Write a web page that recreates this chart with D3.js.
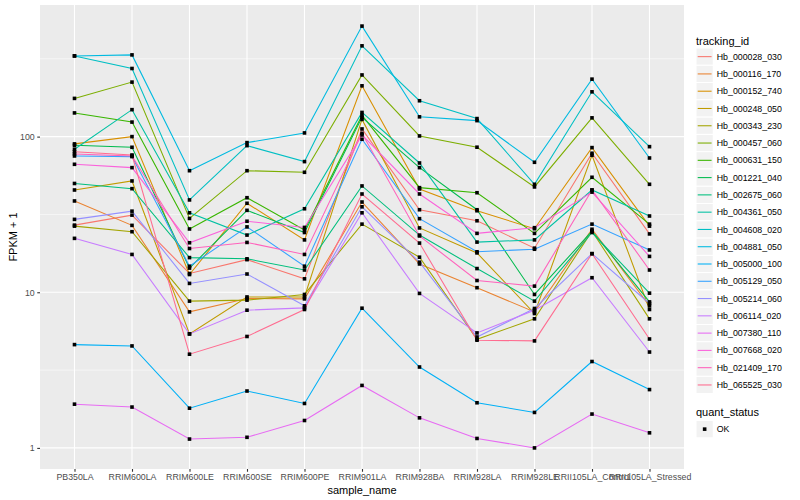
<!DOCTYPE html>
<html>
<head>
<meta charset="utf-8">
<script src="https://cdn.jsdelivr.net/npm/d3@7"></script>
<style>
  body { margin: 0; background: #fff; }
  svg text { font-family: "Liberation Sans", Arial, sans-serif; }
</style>
</head>
<body>
<div id="chart"></div>
<script>
// sample names on the x axis
const sampleNames = ["PB350LA", "RRIM600LA", "RRIM600LE", "RRIM600SE", "RRIM600PE", "RRIM901LA",
    "RRIM928BA", "RRIM928LA", "RRIM928LE", "RRII105LA_Control", "RRII105LA_Stressed"];

// FPKM + 1 per gene, one value per sample
const hb_000028_030 = [27.0, 31.3, 13.2, 16.2, 12.2, 112, 33.9, 28.8, 19.2, 78.2, 23.7];
const hb_000116_170 = [38.6, 26.9, 7.48, 9.12, 9.07, 38.0, 15.2, 10.7, 7.48, 25.4, 8.18];
const hb_000152_740 = [89.8, 100, 13.0, 37.3, 21.7, 212, 46.1, 33.4, 25.6, 85, 26.6];
const hb_000248_050 = [45.4, 51.9, 5.40, 9.33, 9.33, 129, 25.9, 17.9, 7.3, 75.9, 7.75];
const hb_000343_230 = [26.6, 24.5, 8.77, 8.9, 9.68, 27.4, 16.8, 4.99, 6.75, 24.7, 6.75];
const hb_000457_060 = [176, 224, 29.8, 60.4, 59.0, 249, 101, 85.5, 47.5, 132, 49.4];
const hb_000631_150 = [142, 124, 25.5, 40.5, 25.1, 137, 47.0, 43.6, 23.9, 54.8, 27.4];
const hb_001221_040 = [88, 85.4, 14.3, 33.6, 24.2, 133, 63.2, 33.9, 9.68, 24.7, 8.67];
const hb_002675_060 = [50, 46.3, 16.7, 16.4, 13.9, 48.2, 23.3, 14.2, 8.77, 24.2, 9.87];
const hb_004361_050 = [83, 149, 32.4, 23.3, 34.4, 143, 67.7, 21.0, 21.7, 45.4, 30.9];
const hb_004608_020 = [330, 274, 39.2, 87.5, 69.1, 383, 170, 130.6, 49.4, 194, 86.2];
const hb_004881_050 = [330, 335, 60.4, 91.5, 105.6, 513, 134, 126.7, 68.4, 234, 72.9];
const hb_005000_100 = [4.61, 4.52, 1.80, 2.32, 1.93, 7.9, 3.31, 1.95, 1.69, 3.59, 2.37];
const hb_005129_050 = [75.1, 74.4, 14.7, 26.3, 14.7, 96.2, 29.7, 18.2, 18.9, 27.4, 18.7];
const hb_005214_060 = [29.4, 33.2, 11.4, 13.1, 8.18, 35.4, 15.6, 5.16, 7.87, 17.7, 8.47];
const hb_006114_020 = [22.2, 17.5, 5.40, 7.67, 7.94, 32.4, 9.83, 5.48, 7.67, 12.4, 4.13];
const hb_007380_110 = [1.91, 1.83, 1.14, 1.17, 1.50, 2.52, 1.56, 1.15, 1.0, 1.65, 1.25];
const hb_007668_020 = [66.4, 63.2, 20.8, 28.6, 26.1, 102.5, 42.8, 23.9, 26.0, 44, 17.0];
const hb_021409_170 = [77.4, 75.1, 19.1, 20.9, 17.5, 105, 23.0, 11.9, 10.95, 45.4, 13.9];
const hb_065525_030 = [80, 76.2, 4.0, 5.2, 7.75, 42.8, 20.7, 4.92, 4.87, 17.7, 5.01];

const trackingIds = ["Hb_000028_030", "Hb_000116_170", "Hb_000152_740", "Hb_000248_050", "Hb_000343_230",
    "Hb_000457_060", "Hb_000631_150", "Hb_001221_040", "Hb_002675_060", "Hb_004361_050",
    "Hb_004608_020", "Hb_004881_050", "Hb_005000_100", "Hb_005129_050", "Hb_005214_060",
    "Hb_006114_020", "Hb_007380_110", "Hb_007668_020", "Hb_021409_170", "Hb_065525_030"];
const seriesValues = [hb_000028_030, hb_000116_170, hb_000152_740, hb_000248_050, hb_000343_230,
    hb_000457_060, hb_000631_150, hb_001221_040, hb_002675_060, hb_004361_050,
    hb_004608_020, hb_004881_050, hb_005000_100, hb_005129_050, hb_005214_060,
    hb_006114_020, hb_007380_110, hb_007668_020, hb_021409_170, hb_065525_030];
const quantStatus = ["OK"];
const yTicks = [1, 10, 100];

// ggplot2 hue palette for 20 levels
const palette = ["#F8766D", "#EA8331", "#D89000", "#C09B00", "#A3A500", "#7CAE00", "#39B600", "#00BB4E",
    "#00BF7D", "#00C1A3", "#00BFC4", "#00BAE0", "#00B0F6", "#35A2FF", "#9590FF", "#C77CFF",
    "#E76BF3", "#FA62DB", "#FF62BC", "#FF6C90"];

const width = 800, height = 500;
const panel = { left: 40, right: 684, top: 5, bottom: 469 };

const series = trackingIds.map(function (id, i) {
    return { id: id, values: seriesValues[i].map(function (v, j) { return { sample: sampleNames[j], value: v }; }) };
});

const svg = d3.select("#chart").append("svg")
    .attr("width", width)
    .attr("height", height);

// scales
const x = d3.scalePoint()
    .domain(sampleNames)
    .range([panel.left, panel.right])
    .padding(0.6);

const allValues = seriesValues.flat();
const logExt = d3.extent(allValues).map(Math.log10);
const pad = (logExt[1] - logExt[0]) * 0.05;
const y = d3.scaleLog()
    .domain([Math.pow(10, logExt[0] - pad), Math.pow(10, logExt[1] + pad)])
    .range([panel.bottom, panel.top]);

// panel background
svg.append("rect")
    .attr("x", panel.left).attr("y", panel.top)
    .attr("width", panel.right - panel.left)
    .attr("height", panel.bottom - panel.top)
    .attr("fill", "#EBEBEB");

// minor grid (half decades)
const minorTicks = [Math.sqrt(10), Math.sqrt(1000), Math.sqrt(100000)];
svg.append("g").selectAll("line").data(minorTicks).enter().append("line")
    .attr("x1", panel.left).attr("x2", panel.right)
    .attr("y1", function (d) { return y(d); })
    .attr("y2", function (d) { return y(d); })
    .attr("stroke", "#fff").attr("stroke-width", 0.55);

// major grid
svg.append("g").selectAll("line").data(yTicks).enter().append("line")
    .attr("x1", panel.left).attr("x2", panel.right)
    .attr("y1", function (d) { return y(d); })
    .attr("y2", function (d) { return y(d); })
    .attr("stroke", "#fff").attr("stroke-width", 1.1);
svg.append("g").selectAll("line").data(sampleNames).enter().append("line")
    .attr("x1", function (d) { return x(d); })
    .attr("x2", function (d) { return x(d); })
    .attr("y1", panel.top).attr("y2", panel.bottom)
    .attr("stroke", "#fff").attr("stroke-width", 1.1);

// axes
const xAxis = svg.append("g")
    .attr("transform", "translate(0," + panel.bottom + ")")
    .call(d3.axisBottom(x).tickSize(2.75).tickPadding(2.5));
const yAxis = svg.append("g")
    .attr("transform", "translate(" + panel.left + ",0)")
    .call(d3.axisLeft(y).tickValues(yTicks).tickFormat(d3.format("d")).tickSize(2.75).tickPadding(2.5));
[xAxis, yAxis].forEach(function (a) {
    a.select(".domain").remove();
    a.selectAll(".tick line").attr("stroke", "#333333").attr("stroke-width", 1.1);
    a.selectAll(".tick text").attr("fill", "#4D4D4D").style("font-size", "8.8px");
});

// lines
const line = d3.line()
    .x(function (d) { return x(d.sample); })
    .y(function (d) { return y(d.value); });

svg.append("g").selectAll("path").data(series).enter().append("path")
    .attr("d", function (d) { return line(d.values); })
    .attr("fill", "none")
    .attr("stroke", function (d, i) { return palette[i]; })
    .attr("stroke-width", 1.07);

// points
const pts = series.flatMap(function (s) { return s.values; });
svg.append("g").selectAll("rect").data(pts).enter().append("rect")
    .attr("x", function (d) { return x(d.sample) - 1.8; })
    .attr("y", function (d) { return y(d.value) - 1.8; })
    .attr("width", 3.6).attr("height", 3.6)
    .attr("fill", "#000");

// axis titles
svg.append("text")
    .attr("x", (panel.left + panel.right) / 2).attr("y", 494)
    .attr("text-anchor", "middle")
    .style("font-size", "11px")
    .text("sample_name");
svg.append("text")
    .attr("transform", "translate(17," + ((panel.top + panel.bottom) / 2) + ") rotate(-90)")
    .attr("text-anchor", "middle")
    .style("font-size", "11px")
    .text("FPKM + 1");

// legend: tracking_id
const keySize = 17.28;
const legendX = 696;
const legend = svg.append("g");
legend.append("text")
    .attr("x", legendX).attr("y", 44.5)
    .style("font-size", "11px")
    .text("tracking_id");

const rows = legend.selectAll(".row").data(trackingIds).enter().append("g")
    .attr("class", "row")
    .attr("transform", function (d, i) { return "translate(" + legendX + "," + (48 + i * keySize) + ")"; });
rows.append("rect")
    .attr("width", keySize).attr("height", keySize)
    .attr("fill", "#F2F2F2").attr("stroke", "#fff").attr("stroke-width", 1);
rows.append("line")
    .attr("x1", 1.7).attr("x2", keySize - 1.7)
    .attr("y1", keySize / 2).attr("y2", keySize / 2)
    .attr("stroke", function (d, i) { return palette[i]; })
    .attr("stroke-width", 1.07);
rows.append("text")
    .attr("x", keySize + 3.5).attr("y", keySize / 2)
    .attr("dy", "0.35em")
    .style("font-size", "8.8px")
    .text(function (d) { return d; });

// legend: quant_status
const qs = svg.append("g");
qs.append("text")
    .attr("x", legendX).attr("y", 416)
    .style("font-size", "11px")
    .text("quant_status");
const qRows = qs.selectAll(".qrow").data(quantStatus).enter().append("g")
    .attr("class", "qrow")
    .attr("transform", function (d, i) { return "translate(" + legendX + "," + (420.5 + i * keySize) + ")"; });
qRows.append("rect")
    .attr("width", keySize).attr("height", keySize)
    .attr("fill", "#F2F2F2").attr("stroke", "#fff").attr("stroke-width", 1);
qRows.append("rect")
    .attr("x", keySize / 2 - 1.8).attr("y", keySize / 2 - 1.8)
    .attr("width", 3.6).attr("height", 3.6)
    .attr("fill", "#000");
qRows.append("text")
    .attr("x", keySize + 3.5).attr("y", keySize / 2)
    .attr("dy", "0.35em")
    .style("font-size", "8.8px")
    .text(function (d) { return d; });
</script>
</body>
</html>
